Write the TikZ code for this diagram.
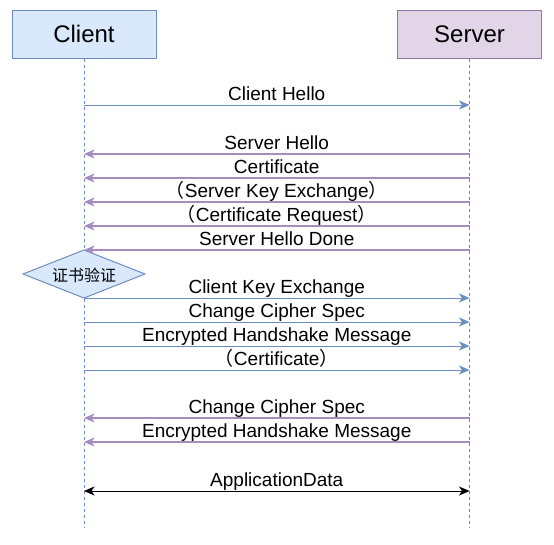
\documentclass[tikz,border=0pt]{standalone}
\usepackage{fontspec}
\setmainfont{Liberation Sans}
\newfontfamily\cjk{Noto Sans CJK SC}
\usetikzlibrary{arrows.meta}
\definecolor{cblue}{HTML}{6C8EBF}
\definecolor{cbluefill}{HTML}{DAE8FC}
\definecolor{cpurple}{HTML}{9673A6}
\definecolor{cpurplefill}{HTML}{E1D5E7}
\definecolor{cmsg}{HTML}{A88CC0}
\tikzset{
  actor/.style={rectangle, minimum width=144pt, minimum height=48pt, inner sep=0pt,
    line width=1pt, font=\fontsize{24}{28}\selectfont},
  lifeC/.style={draw=cblue, line width=0.9pt, dash pattern=on 3pt off 3pt},
  lifeS/.style={draw=cpurple, line width=0.9pt, dash pattern=on 3pt off 3pt},
  tip/.style={-{Stealth[length=10.5pt, width=9pt, inset=3pt]}},
  toS/.style={tip, draw=cblue, fill=cblue, line width=1pt},
  toC/.style={tip, draw=cmsg, fill=cmsg, line width=1.3pt},
  both/.style={{Stealth[length=10.5pt, width=9pt, inset=3pt]}-{Stealth[length=10.5pt, width=9pt, inset=3pt]}, draw=black, line width=1pt},
  lbl/.style={anchor=base, yshift=4.5pt, inner sep=0pt, text=black},
  dia/.style={draw=cblue, fill=cbluefill, line width=1pt}
}
\begin{document}
\begin{tikzpicture}[x=1pt, y=-1pt, font=\fontsize{19}{22}\selectfont]
\useasboundingbox (0,0) rectangle (554,544);
\node[actor, draw=cblue, fill=cbluefill] (client) at (84,34) {Client};
\node[actor, draw=cpurple, fill=cpurplefill] (server) at (469.5,34) {Server};
\coordinate (cend) at (84,527);
\coordinate (send) at (469.5,527);
\draw[lifeC] (client.south) -- (cend);
\draw[lifeS] (server.south) -- (send);
% diamond
\coordinate (dl) at (23,274);
\coordinate (dt) at (84,250);
\coordinate (dr) at (145,274);
\coordinate (db) at (84,298);
\draw[dia] (dl) -- (dt) -- (dr) -- (db) -- cycle;
\node[inner sep=0pt, font=\cjk\fontsize{16}{18}\selectfont] (check) at (84,275) {证书验证};
% client -> server
\foreach \i/\y/\t in {1/105/Client Hello, 6/298/Client Key Exchange, 7/322/Change Cipher Spec,
   8/346/Encrypted Handshake Message, 9/370/{{\cjk（}Certificate{\cjk）}}} {
  \coordinate (c\i) at (84,\y);
  \coordinate (s\i) at (469.5,\y);
  \draw[toS] (c\i) -- node[lbl] {\t} (s\i);
}
% server -> client
\foreach \i/\y/\t in {2/154/Server Hello, 3/178/Certificate,
   4/202/{{\cjk（}Server Key Exchange{\cjk）}}, 5/226/{{\cjk（}Certificate Request{\cjk）}},
   10/250/Server Hello Done, 11/418/Change Cipher Spec, 12/442/Encrypted Handshake Message} {
  \coordinate (c\i) at (84,\y);
  \coordinate (s\i) at (469.5,\y);
  \draw[toC] (s\i) -- node[lbl] {\t} (c\i);
}
% application data
\coordinate (c13) at (84,491);
\coordinate (s13) at (469.5,491);
\draw[both] (c13) -- node[lbl] {ApplicationData} (s13);
\end{tikzpicture}
\end{document}
